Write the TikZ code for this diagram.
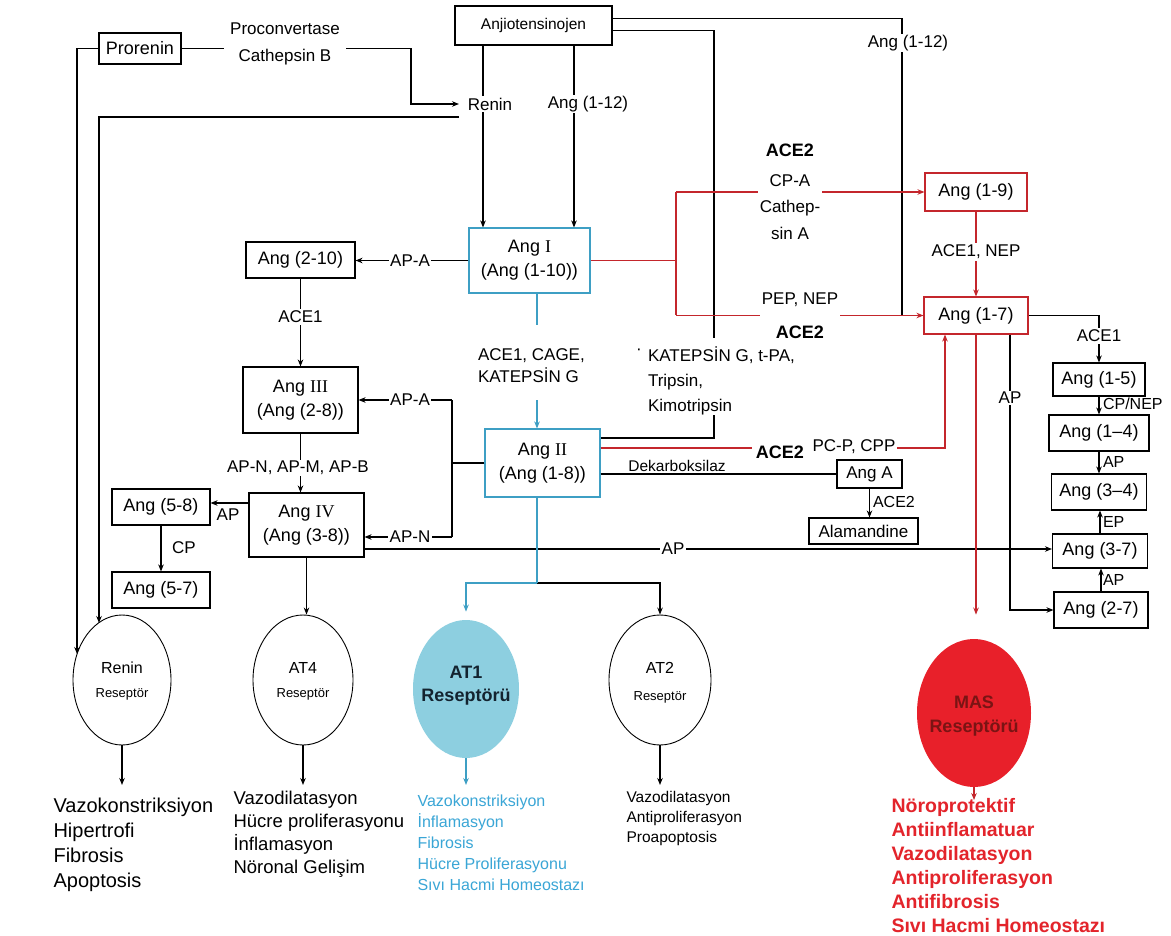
\documentclass[tikz,border=0pt]{standalone}
\usepackage{fontspec}
\setmainfont{Liberation Sans}
\newfontfamily\rmn{Liberation Serif}
\usetikzlibrary{arrows.meta,shapes.geometric}
\definecolor{cyl}{HTML}{3E9FC4}
\definecolor{atfill}{HTML}{8DCFE0}
\definecolor{rdl}{HTML}{C4262C}
\definecolor{masred}{HTML}{E8202A}
\definecolor{rtext}{HTML}{E3242B}
\definecolor{ctext}{HTML}{3AA6D6}
\definecolor{mastext}{HTML}{7A1414}
\definecolor{attext}{HTML}{13232F}
\newcommand\fsz[2]{\fontsize{#1}{#2}\selectfont}
\begin{document}
\begin{tikzpicture}[x=1pt,y=-1pt,line width=1.1pt,
  >={Stealth[length=7pt,width=5.5pt]},
  box/.style={draw,inner sep=0pt,align=center,font=\fsz{18}{24}},
  lab/.style={inner sep=1.5pt,font=\fsz{17}{21}},
  wlab/.style={lab,fill=white},
  ell/.style={ellipse,draw,line width=0.9pt,inner sep=0pt},
  res/.style={align=center,inner sep=0pt},
  eff/.style={anchor=north west,align=left,inner sep=0pt}]
\fill[white] (0,0) rectangle (1171,936);
\useasboundingbox (0,0) rectangle (1171,936);

% ---------- boxes
\node[box,font=\fsz{15.5}{19},minimum width=157pt,minimum height=39pt] (anj) at (533.5,25.5) {Anjiotensinojen};
\node[box,minimum width=82pt,minimum height=31pt] (pro) at (140,48.5) {Prorenin};
\node[box,draw=cyl,minimum width=121pt,minimum height=65pt] (angI) at (529.5,260.5) {Ang {\rmn I}\\(Ang (1-10))};
\node[box,minimum width=109pt,minimum height=36pt] (a210) at (300.5,260) {Ang (2-10)};
\node[box,minimum width=115pt,minimum height=66pt] (angIII) at (300.5,400) {Ang {\rmn III}\\(Ang (2-8))};
\node[box,minimum width=115pt,minimum height=64pt] (angIV) at (306.5,525) {Ang {\rmn IV}\\(Ang (3-8))};
\node[box,minimum width=98pt,minimum height=36pt] (a58) at (161,507) {Ang (5-8)};
\node[box,minimum width=98pt,minimum height=36pt] (a57) at (161,590) {Ang (5-7)};
\node[box,draw=cyl,minimum width=115pt,minimum height=68pt] (angII) at (542.5,463) {Ang {\rmn II}\\(Ang (1-8))};
\node[box,draw=rdl,minimum width=102pt,minimum height=38pt] (a19) at (976,192) {Ang (1-9)};
\node[box,draw=rdl,minimum width=104pt,minimum height=37pt] (a17) at (976,315.5) {Ang (1-7)};
\node[box,minimum width=92pt,minimum height=33pt] (a15) at (1099,379.5) {Ang (1-5)};
\node[box,minimum width=100pt,minimum height=36pt] (a14) at (1099,433) {Ang (1–4)};
\node[box,minimum width=95pt,minimum height=36pt] (a34) at (1099,492) {Ang (3–4)};
\node[box,minimum width=95pt,minimum height=34pt] (a37) at (1100,551) {Ang (3-7)};
\node[box,minimum width=94pt,minimum height=36pt] (a27) at (1101,610) {Ang (2-7)};
\node[box,font=\fsz{17}{20},minimum width=65pt,minimum height=28pt] (angA) at (869.5,474) {Ang A};
\node[box,font=\fsz{17}{20},minimum width=109pt,minimum height=26pt] (alam) at (863.5,531) {Alamandine};

% ---------- receptors
\node[ell,minimum width=98pt,minimum height=130pt] (rr) at (122,680) {};
\node[ell,minimum width=100pt,minimum height=130pt] (at4) at (303,680) {};
\node[ell,draw=none,fill=atfill,minimum width=106pt,minimum height=138pt] (at1) at (466,689) {};
\node[ell,minimum width=102pt,minimum height=130pt] (at2) at (660,680) {};
\node[ell,draw=none,fill=masred,minimum width=114pt,minimum height=148pt] (mas) at (974,713) {};

% ---------- coordinates
\coordinate (lx) at (483,0);
\coordinate (rx1) at (574,0);
\coordinate (pcx) at (411,0);
\coordinate (rnw) at (459,104);
\coordinate (rn) at (459,117);
\coordinate (rrA) at (77,654);
\coordinate (rrB) at (99,623);
\coordinate (j1) at (902,315.5);
\coordinate (k1) at (714,338);
\coordinate (k2) at (714,415);
\coordinate (cx) at (537,0);
\coordinate (c1) at (537,325);
\coordinate (c2) at (537,400);
\coordinate (vx) at (452,0);
\coordinate (apn) at ([yshift=-12pt]angIV.east);
\coordinate (ap58) at ([yshift=22pt]angIV.west);
\coordinate (apl) at ([yshift=-24pt]angIV.east);
\coordinate (br) at (537,583);
\coordinate (r3) at (752,448);
\coordinate (r4) at (897,448);
\coordinate (rx2) at (945,0);
\coordinate (rv) at (676,0);
\coordinate (pep1) at (760,315.5);
\coordinate (pep2) at (840,315.5);
\coordinate (apx) at (1010,0);
\coordinate (bot) at (0,785);
\coordinate (botm) at (0,800);

% ---------- black connectors
\draw[->] (anj.south -| lx) -- (angI.north -| lx);
\draw[->] (anj.south -| rx1) -- (angI.north -| rx1);
\draw[->] (pro.east) -| (pcx |- rnw) -- (rnw);
\draw[->] (rn) -| (rrB);
\draw[->] (pro.west) -| (rrA);
\draw ([yshift=7pt]anj.east) -| (j1);
\draw ([yshift=-5pt]anj.east) -| (k1);
\draw (k2) |- ([yshift=25pt]angII.east);
\draw[->] (angI.west) -- (angI.west -| a210.east);
\draw[->] (a210.south) -- (angIII.north);
\draw (angII.west) -- (vx |- angII.west);
\draw (vx |- angIII.east) -- (vx |- apn);
\draw[->] (vx |- angIII.east) -- (angIII.east);
\draw[->] (vx |- apn) -- (apn);
\draw[->] (angIII.south) -- (angIII.south |- angIV.north);
\draw[->] (ap58) -- (ap58 -| a58.east);
\draw[->] (a58.south) -- (a57.north);
\draw[->] (angIV.south) -- (angIV.south |- at4.north);
\draw[->] (apl) -- (apl -| a37.west);
\draw[->] (br) -| (at2.north);
\draw (angII.east |- angA.west) -- (angA.west);
\draw[->] (angA.south) -- (angA.south |- alam.north);
\draw[->] (a17.east) -| (a15.north);
\draw[->] (a15.south) -- (a14.north);
\draw[->] (a14.south) -- (a34.north);
\draw[->] (a37.north) -- (a37.north |- a34.south);
\draw[->] (a27.north) -- (a27.north |- a37.south);
\draw[->] (a17.south -| apx) |- (a27.west);

% ---------- cyan connectors
\draw[cyl] (angI.south -| cx) -- (c1);
\draw[cyl,->] (c2) -- (angII.north -| cx);
\draw[cyl] (angII.south -| cx) -- (br);
\draw[cyl,->,shorten >=8pt] (br) -| (at1.north);

% ---------- red connectors
\draw[rdl] (angI.east) -- (angI.east -| rv);
\draw[rdl] (rv |- a19.west) -- (rv |- a17.west);
\draw[rdl,->] (rv |- a19.west) -- (a19.west);
\draw[rdl] (rv |- a17.west) -- (pep1);
\draw[rdl,->] (pep2) -- (a17.west);
\draw[rdl,->] (a19.south) -- (a17.north);
\draw[rdl] ([yshift=15pt]angII.east) -- (r3);
\draw[rdl,->] (r4) -| (a17.south -| rx2);
\draw[rdl,->,shorten >=24pt] (a17.south) -- (a17.south |- mas.north);

% ---------- to effects
\draw[->] (rr.south) -- (rr.south |- bot);
\draw[->] (at4.south) -- (at4.south |- bot);
\draw[cyl,->] (at1.south) -- (at1.south |- bot);
\draw[->] (at2.south) -- (at2.south |- bot);
\draw[rdl,->] (mas.south) -- (mas.south |- botm);

% ---------- labels
\node[wlab,inner xsep=6pt,align=center,font=\fsz{17}{27}] (procl) at (285,44) {Proconvertase\\Cathepsin B};
\node[wlab] (renl) at (490,104) {Renin};
\node[wlab] (a112l) at (588,104) {Ang (1-12)};
\node[wlab] (a112r) at (908,43) {Ang (1-12)};
\node[wlab] (apa1) at (410,260.5) {AP-A};
\node[wlab] (ace1l) at (300.5,317) {ACE1};
\node[wlab] (apa2) at (410,400) {AP-A};
\node[wlab] (apnmb) at (298,468) {AP-N, AP-M, AP-B};
\node[wlab] (apnl) at (410,537) {AP-N};
\node[lab] (ap58l) at (228,515) {AP};
\node[lab] (cpl) at (184,548) {CP};
\node[lab,align=left,anchor=west,font=\fsz{17}{22}] (cage) at (476,366) {ACE1, CAGE,\\KATEPSİN G};
\node[lab] (kdot) at (639,352) {·};
\node[lab,align=left,anchor=north west,font=\fsz{17}{25}] (kat) at (646,345) {KATEPSİN G, t-PA,\\Tripsin,\\Kimotripsin};
\node[lab,font=\bfseries\fsz{18}{22}] (ace2a) at (790,150) {ACE2};
\node[wlab,align=center,font=\fsz{17}{26.5}] (cpa) at (790,207) {CP-A\\Cathep-\\sin A};
\node[lab] (pep) at (800,300) {PEP, NEP};
\node[lab,font=\bfseries\fsz{18}{22}] (ace2b) at (800,332) {ACE2};
\node[wlab] (ace1nep) at (976,252) {ACE1, NEP};
\node[lab,font=\fsz{15.5}{19}] (dek) at (677,466) {Dekarboksilaz};
\node[lab,font=\bfseries\fsz{18}{22}] (ace2c) at (780,452) {ACE2};
\node[lab] (pcp) at (854,447) {PC-P, CPP};
\node[lab,anchor=west,font=\fsz{16}{20}] (ace2d) at (871,502) {ACE2};
\node[wlab] (apm) at (673,549) {AP};
\node[wlab] (ap17) at (1010,398) {AP};
\node[wlab] (ace1r) at (1099,336) {ACE1};
\node[lab,anchor=west,font=\fsz{16}{20}] (cpnep) at (1101,404) {CP/NEP};
\node[lab,anchor=west,font=\fsz{16}{20}] (apr1) at (1101,462) {AP};
\node[lab,anchor=west,font=\fsz{16}{20}] (epr) at (1101,522) {EP};
\node[lab,anchor=west,font=\fsz{16}{20}] (apr2) at (1101,580) {AP};

% ---------- receptor texts
\node[res,font=\fsz{16}{20}] (rrt1) at (122,668) {Renin};
\node[res,font=\fsz{13}{16}] (rrt2) at (122,694) {Reseptör};
\node[res,font=\fsz{16}{20}] (at4t1) at (303,668) {AT4};
\node[res,font=\fsz{13}{16}] (at4t2) at (303,694) {Reseptör};
\node[res,attext,font=\bfseries\fsz{18}{22}] (at1t1) at (466,672) {AT1};
\node[res,attext,font=\bfseries\fsz{18}{22}] (at1t2) at (466,697) {Reseptörü};
\node[res,font=\fsz{16}{20}] (at2t1) at (660,668) {AT2};
\node[res,font=\fsz{13}{16}] (at2t2) at (660,697) {Reseptör};
\node[res,mastext,font=\bfseries\fsz{18}{22}] (mast1) at (974,702) {MAS};
\node[res,mastext,font=\bfseries\fsz{18}{22}] (mast2) at (974,728) {Reseptörü};

% ---------- effects
\node[eff,font=\fsz{20}{25}] (eff1) at (53,797) {Vazokonstriksiyon\\Hipertrofi\\Fibrosis\\Apoptosis};
\node[eff,font=\fsz{18.5}{23}] (eff4) at (233,791) {Vazodilatasyon\\Hücre proliferasyonu\\İnflamasyon\\Nöronal Gelişim};
\node[eff,ctext,font=\fsz{16}{21}] (effc) at (417,794) {Vazokonstriksiyon\\İnflamasyon\\Fibrosis\\Hücre Proliferasyonu\\Sıvı Hacmi Homeostazı};
\node[eff,font=\fsz{15.5}{20}] (eff2) at (626,791) {Vazodilatasyon\\Antiproliferasyon\\Proapoptosis};
\node[eff,rtext,font=\bfseries\fsz{19.5}{24}] (effm) at (891,798) {Nöroprotektif\\Antiinflamatuar\\Vazodilatasyon\\Antiproliferasyon\\Antifibrosis\\Sıvı Hacmi Homeostazı};
\end{tikzpicture}
\end{document}
